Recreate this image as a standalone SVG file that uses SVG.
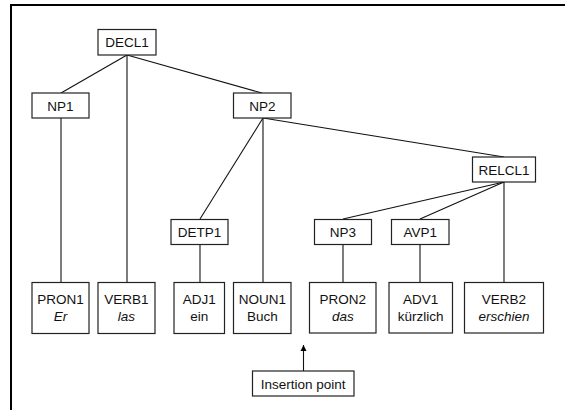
<svg xmlns="http://www.w3.org/2000/svg" width="565" height="410" viewBox="0 0 565 410">
<defs>
<style>
.n rect{fill:#fff;stroke:#222;stroke-width:1.2}
.n text,.lbl{font-family:"Liberation Sans",Arial,sans-serif;font-size:13.5px;fill:#111;text-anchor:middle}
.i{font-style:italic}
.c line{stroke:#111;stroke-width:1.1}
</style>
<marker id="ah" viewBox="0 0 10 10" refX="10" refY="5" markerWidth="6" markerHeight="9" markerUnits="userSpaceOnUse" orient="auto">
<path d="M0,0 L10,5 L0,10 z" fill="#000"/>
</marker>
</defs>
<rect width="565" height="410" fill="#fff"/>
<g id="frame">
<line x1="10" y1="5" x2="565" y2="5" stroke="#000" stroke-width="2"/>
<line x1="11" y1="4" x2="11" y2="410" stroke="#000" stroke-width="2"/>
</g>
<g class="c" id="connectors">
<line x1="127" y1="55" x2="61" y2="93"/>
<line x1="127" y1="55" x2="127" y2="282"/>
<line x1="127" y1="55" x2="262" y2="93"/>
<line x1="61" y1="118" x2="61" y2="282"/>
<line x1="263" y1="118" x2="200" y2="219"/>
<line x1="263" y1="118" x2="263" y2="282"/>
<line x1="263" y1="118" x2="504" y2="157"/>
<line x1="504" y1="182" x2="343" y2="219"/>
<line x1="504" y1="182" x2="420" y2="219"/>
<line x1="504" y1="182" x2="504" y2="282"/>
<line x1="200" y1="244" x2="200" y2="282"/>
<line x1="343" y1="244" x2="343" y2="282"/>
<line x1="420" y1="244" x2="420" y2="282"/>
<line x1="303.5" y1="371" x2="303.5" y2="345" marker-end="url(#ah)"/>
</g>
<g class="n" id="DECL1"><rect x="98" y="29.5" width="58" height="25.5"/><text x="127" y="47">DECL1</text></g>
<g class="n" id="NP1"><rect x="32" y="93" width="57" height="25"/><text x="60.5" y="110.5">NP1</text></g>
<g class="n" id="NP2"><rect x="233.5" y="93" width="57.5" height="25"/><text x="262.5" y="110.5">NP2</text></g>
<g class="n" id="RELCL1"><rect x="472.5" y="157" width="63" height="25"/><text x="504" y="174.5">RELCL1</text></g>
<g class="n" id="DETP1"><rect x="171" y="219.5" width="57" height="25"/><text x="199.5" y="237">DETP1</text></g>
<g class="n" id="NP3"><rect x="314.5" y="219.5" width="57" height="25"/><text x="343" y="237">NP3</text></g>
<g class="n" id="AVP1"><rect x="391.5" y="219.5" width="57.5" height="25"/><text x="420.3" y="237">AVP1</text></g>
<g class="n" id="PRON1"><rect x="32" y="282.5" width="57" height="51"/><text x="60.5" y="304">PRON1</text><text class="i" x="60.5" y="320.5">Er</text></g>
<g class="n" id="VERB1"><rect x="98" y="282.5" width="57" height="51"/><text x="126.5" y="304">VERB1</text><text class="i" x="126.5" y="320.5">las</text></g>
<g class="n" id="ADJ1"><rect x="174" y="282.5" width="50.5" height="51"/><text x="199.3" y="304">ADJ1</text><text x="199.3" y="320.5">ein</text></g>
<g class="n" id="NOUN1"><rect x="233.5" y="282.5" width="57.5" height="51"/><text x="262.3" y="304">NOUN1</text><text x="262.3" y="320.5">Buch</text></g>
<g class="n" id="PRON2"><rect x="309.5" y="282.5" width="66.5" height="50.5"/><text x="342.8" y="304">PRON2</text><text class="i" x="342.8" y="320.5">das</text></g>
<g class="n" id="ADV1"><rect x="389" y="282.5" width="63.5" height="50.5"/><text x="420.7" y="304">ADV1</text><text x="420.7" y="320.5">kürzlich</text></g>
<g class="n" id="VERB2"><rect x="464.5" y="282.5" width="79" height="50.5"/><text x="504" y="304">VERB2</text><text class="i" x="504" y="320.5">erschien</text></g>
<g class="n" id="insertion"><rect x="252.5" y="371" width="101.5" height="25"/><text x="303.2" y="388.5">Insertion point</text></g>
</svg>
